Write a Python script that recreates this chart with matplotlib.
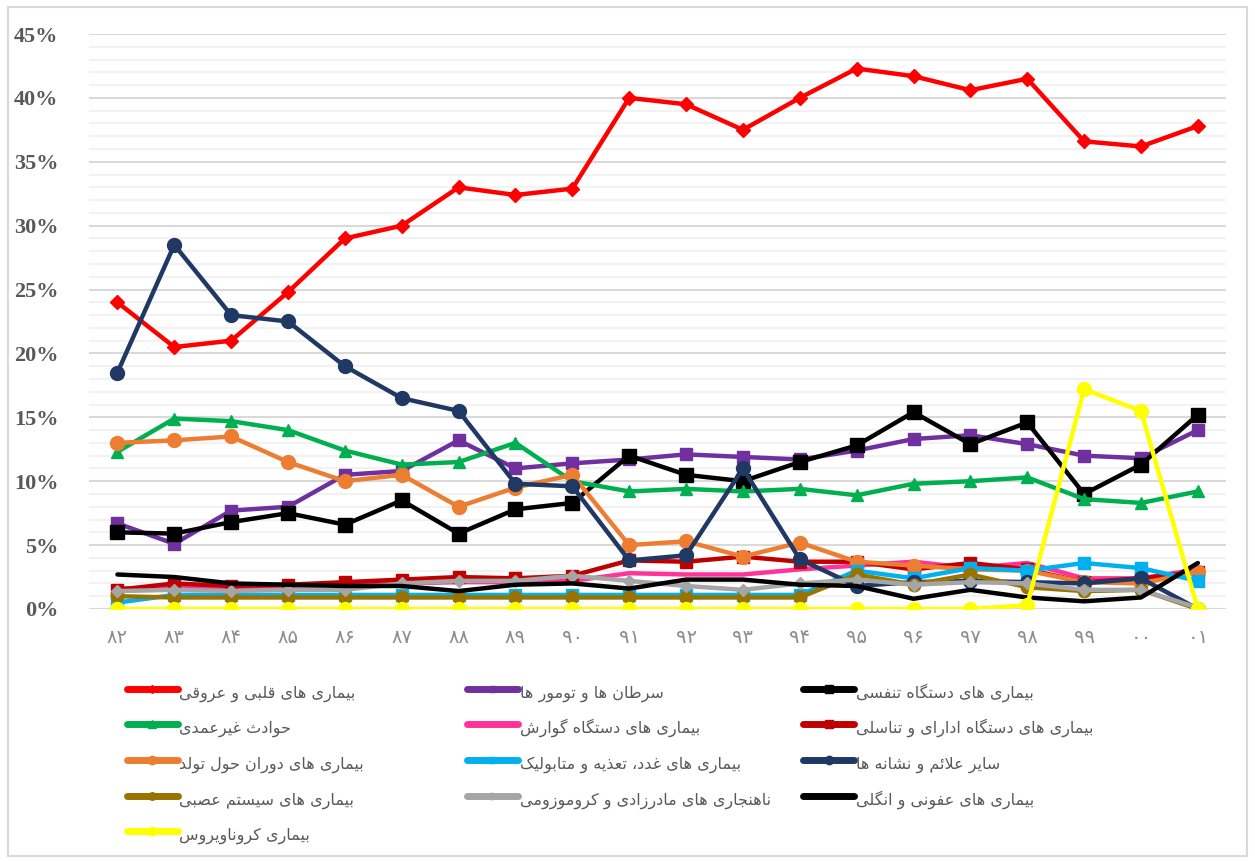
import matplotlib
matplotlib.use('Agg')
import matplotlib.pyplot as plt
from matplotlib.patches import Rectangle
from matplotlib.ticker import MultipleLocator

# سال ها (محور افقی)
years = ['۸۲', '۸۳', '۸۴', '۸۵', '۸۶', '۸۷', '۸۸', '۸۹', '۹۰', '۹۱',
         '۹۲', '۹۳', '۹۴', '۹۵', '۹۶', '۹۷', '۹۸', '۹۹', '۰۰', '۰۱']

# درصد ها برای هر گروه بیماری
heart = [24.0, 20.5, 21.0, 24.8, 29.0, 30.0, 33.0, 32.4, 32.9, 40.0,
         39.5, 37.5, 40.0, 42.3, 41.7, 40.6, 41.5, 36.6, 36.2, 37.8]
cancer = [6.7, 5.1, 7.7, 8.0, 10.5, 10.8, 13.2, 11.0, 11.4, 11.7,
          12.1, 11.9, 11.7, 12.4, 13.3, 13.6, 12.9, 12.0, 11.8, 14.0]
respiratory = [6.0, 5.9, 6.8, 7.5, 6.6, 8.5, 5.9, 7.8, 8.3, 12.0,
               10.5, 10.0, 11.5, 12.8, 15.4, 12.9, 14.6, 9.0, 11.3, 15.2]
accidents = [12.3, 14.9, 14.7, 14.0, 12.4, 11.3, 11.5, 13.0, 10.0, 9.2,
             9.4, 9.2, 9.4, 8.9, 9.8, 10.0, 10.3, 8.6, 8.3, 9.2]
digestive = [1.6, 1.7, 1.7, 1.8, 1.9, 2.0, 2.1, 2.1, 2.2, 2.8,
             2.7, 2.7, 3.1, 3.4, 3.7, 3.2, 3.6, 2.4, 2.4, 3.1]
urogenital = [1.5, 2.0, 1.8, 1.9, 2.1, 2.3, 2.5, 2.4, 2.6, 3.8,
              3.7, 4.1, 3.7, 3.7, 3.1, 3.6, 3.1, 2.1, 2.4, 2.9]
perinatal = [13.0, 13.2, 13.5, 11.5, 10.0, 10.5, 8.0, 9.5, 10.5, 5.0,
             5.3, 4.1, 5.2, 3.7, 3.4, 3.1, 3.0, 2.1, 2.0, 2.9]
endocrine = [0.5, 1.1, 1.1, 1.1, 1.1, 1.1, 1.1, 1.1, 1.1, 1.1,
             1.1, 1.1, 1.1, 3.0, 2.4, 3.2, 3.0, 3.6, 3.2, 2.2]
other_signs = [18.5, 28.5, 23.0, 22.5, 19.0, 16.5, 15.5, 9.8, 9.6, 3.8,
               4.2, 11.0, 3.9, 1.8, 2.1, 2.2, 2.1, 2.0, 2.4, 0.0]
nervous = [1.0, 0.9, 0.9, 0.9, 0.9, 0.9, 0.9, 0.9, 0.9, 0.9,
           0.9, 0.9, 0.9, 2.7, 1.9, 2.7, 1.7, 1.4, 1.5, 0.0]
congenital = [1.4, 1.5, 1.4, 1.5, 1.5, 2.0, 2.2, 2.2, 2.6, 2.2,
              1.8, 1.5, 2.0, 2.3, 1.9, 2.1, 2.0, 1.5, 1.5, 0.1]
infectious = [2.7, 2.5, 2.0, 1.9, 1.8, 1.8, 1.4, 1.9, 2.0, 1.6,
              2.3, 2.3, 1.9, 1.8, 0.8, 1.5, 0.9, 0.6, 0.9, 3.6]
corona = [0.0, 0.0, 0.0, 0.0, 0.0, 0.0, 0.0, 0.0, 0.0, 0.0,
          0.0, 0.0, 0.0, 0.0, 0.0, 0.0, 0.3, 17.2, 15.5, 0.0]

labels = [
    'بیماری های قلبی و عروقی',
    'سرطان ها و تومور ها',
    'بیماری های دستگاه تنفسی',
    'حوادث غیرعمدی',
    'بیماری های دستگاه گوارش',
    'بیماری های دستگاه ادارای و تناسلی',
    'بیماری های دوران حول تولد',
    'بیماری های غدد، تعذیه و متابولیک',
    'سایر علائم و نشانه ها',
    'بیماری های سیستم عصبی',
    'ناهنجاری های مادرزادی و کروموزومی',
    'بیماری های عفونی و انگلی',
    'بیماری کروناویروس',
]

# شکل حروف فارسی (isolated, final, initial, medial)
FORMS = {
    'ا': (0xFE8D, 0xFE8E, None, None),
    'ب': (0xFE8F, 0xFE90, 0xFE91, 0xFE92),
    'پ': (0xFB56, 0xFB57, 0xFB58, 0xFB59),
    'ت': (0xFE95, 0xFE96, 0xFE97, 0xFE98),
    'ث': (0xFE99, 0xFE9A, 0xFE9B, 0xFE9C),
    'ج': (0xFE9D, 0xFE9E, 0xFE9F, 0xFEA0),
    'چ': (0xFB7A, 0xFB7B, 0xFB7C, 0xFB7D),
    'ح': (0xFEA1, 0xFEA2, 0xFEA3, 0xFEA4),
    'خ': (0xFEA5, 0xFEA6, 0xFEA7, 0xFEA8),
    'د': (0xFEA9, 0xFEAA, None, None),
    'ذ': (0xFEAB, 0xFEAC, None, None),
    'ر': (0xFEAD, 0xFEAE, None, None),
    'ز': (0xFEAF, 0xFEB0, None, None),
    'ژ': (0xFB8A, 0xFB8B, None, None),
    'س': (0xFEB1, 0xFEB2, 0xFEB3, 0xFEB4),
    'ش': (0xFEB5, 0xFEB6, 0xFEB7, 0xFEB8),
    'ص': (0xFEB9, 0xFEBA, 0xFEBB, 0xFEBC),
    'ض': (0xFEBD, 0xFEBE, 0xFEBF, 0xFEC0),
    'ط': (0xFEC1, 0xFEC2, 0xFEC3, 0xFEC4),
    'ظ': (0xFEC5, 0xFEC6, 0xFEC7, 0xFEC8),
    'ع': (0xFEC9, 0xFECA, 0xFECB, 0xFECC),
    'غ': (0xFECD, 0xFECE, 0xFECF, 0xFED0),
    'ف': (0xFED1, 0xFED2, 0xFED3, 0xFED4),
    'ق': (0xFED5, 0xFED6, 0xFED7, 0xFED8),
    'ل': (0xFEDD, 0xFEDE, 0xFEDF, 0xFEE0),
    'م': (0xFEE1, 0xFEE2, 0xFEE3, 0xFEE4),
    'ن': (0xFEE5, 0xFEE6, 0xFEE7, 0xFEE8),
    'ه': (0xFEE9, 0xFEEA, 0xFEEB, 0xFEEC),
    'و': (0xFEED, 0xFEEE, None, None),
    'ئ': (0xFE89, 0xFE8A, 0xFE8B, 0xFE8C),
    'ی': (0xFBFC, 0xFBFD, 0xFBFE, 0xFBFF),
    'ک': (0xFB8E, 0xFB8F, 0xFB90, 0xFB91),
    'گ': (0xFB92, 0xFB93, 0xFB94, 0xFB95),
}


def joins_next(c):
    return c in FORMS and FORMS[c][2] is not None


def fa(text):
    # matplotlib حروف عربی را به هم نمی چسباند، پس خودمان شکل می دهیم
    res = []
    i = 0
    n = len(text)
    while i < n:
        c = text[i]
        prev = text[i - 1] if i > 0 else ''
        if c == 'ل' and i + 1 < n and text[i + 1] == 'ا':
            res.append(chr(0xFEFC if joins_next(prev) else 0xFEFB))
            i += 2
            continue
        if c not in FORMS:
            res.append(c)
            i += 1
            continue
        nxt = text[i + 1] if i + 1 < n else ''
        p = joins_next(prev)
        q = joins_next(c) and nxt in FORMS
        iso, fin, ini, med = FORMS[c]
        if p and q:
            f = med
        elif p:
            f = fin
        elif q:
            f = ini
        else:
            f = iso
        res.append(chr(f))
        i += 1
    return ''.join(reversed(res))


series = [heart, cancer, respiratory, accidents, digestive, urogenital,
          perinatal, endocrine, other_signs, nervous, congenital, infectious, corona]
colors = ['#ff0000', '#7030a0', '#000000', '#00b050', '#ff3399', '#c00000',
          '#ed7d31', '#00b0f0', '#203864', '#997300', '#a5a5a5', '#000000', '#ffff00']
markers = ['D', 's', 's', '^', None, 's', 'o', 's', 'o', 'o', 'D', None, 'o']
msizes = [7, 8, 10, 9, 0, 9, 10, 8, 10, 9, 6, 0, 10]

GRAY = '#595959'

fig = plt.figure(figsize=(12.55, 8.61), dpi=100)
fig.patches.append(Rectangle((0.006, 0.006), 0.988, 0.986, transform=fig.transFigure,
                             fill=False, edgecolor='#d9d9d9', linewidth=1.5))
ax = fig.add_axes([0.0709, 0.2927, 0.9062, 0.6678])

x = list(range(len(years)))
handles = []
for vals, col, mk, ms, lab in zip(series, colors, markers, msizes, labels):
    h, = ax.plot(x, vals, color=col, linewidth=3.2, marker=mk, markersize=ms,
                 markeredgecolor=col, markerfacecolor=col, label=fa(lab),
                 solid_joinstyle='round', solid_capstyle='round')
    handles.append(h)

ax.set_xlim(-0.5, len(years) - 0.5)
ax.set_ylim(0, 45)
ax.yaxis.set_major_locator(MultipleLocator(5))
ax.yaxis.set_minor_locator(MultipleLocator(1))
ax.set_yticks(range(0, 46, 5))
ax.set_yticklabels(['{}%'.format(v) for v in range(0, 46, 5)],
                   fontfamily='Liberation Serif', fontweight='bold', fontsize=16, color=GRAY)
ax.set_xticks(x)
ax.set_xticklabels(years, fontfamily='DejaVu Sans', fontsize=14, color='#8c8c8c')
ax.tick_params(axis='both', which='both', length=0)
ax.tick_params(axis='y', pad=22)
ax.tick_params(axis='x', pad=14)
ax.grid(axis='y', which='major', color='#d9d9d9', linewidth=1.5)
ax.grid(axis='y', which='minor', color='#f2f2f2', linewidth=1.5)
ax.set_axisbelow(True)
for s in ax.spines.values():
    s.set_visible(False)

# راهنما: سه ستون، ترتیب سطری مثل اکسل
col_x = [0.101, 0.372, 0.640]
for k in range(3):
    idx = list(range(k, len(handles), 3))
    leg = fig.legend(handles=[handles[i] for i in idx],
                     labels=[handles[i].get_label() for i in idx],
                     loc='upper left', bbox_to_anchor=(col_x[k], 0.210), frameon=False,
                     borderpad=0, borderaxespad=0, handlelength=3.2, handletextpad=0.1,
                     handleheight=2.0, labelspacing=0.68, numpoints=1, markerscale=0.6,
                     prop={'family': 'DejaVu Sans', 'size': 11.5},
                     labelcolor=GRAY)
    for ln in leg.get_lines():
        ln.set_linewidth(5)

fig.savefig('out.png', dpi=100)
